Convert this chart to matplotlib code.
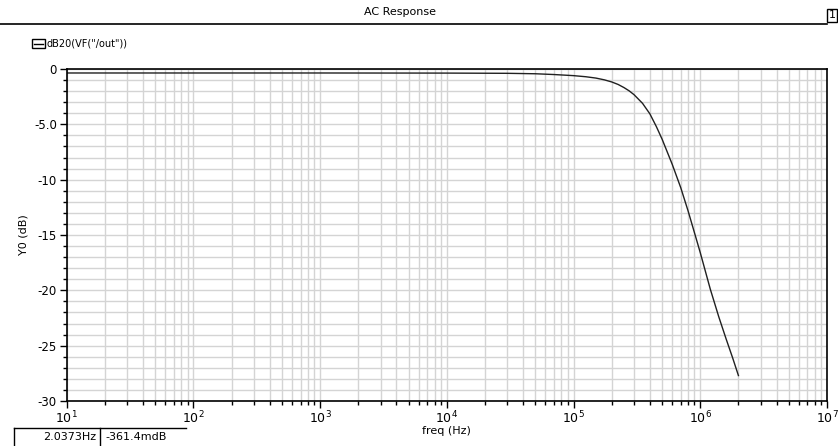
import matplotlib.pyplot as plt
import numpy as np
from matplotlib.ticker import LogLocator, MultipleLocator, FixedLocator, FixedFormatter
from matplotlib.lines import Line2D
from matplotlib.patches import Rectangle

# frequencia (Hz) e resposta (dB)
freq = [10, 100, 1e3, 1e4, 3e4, 5e4, 7e4, 1e5, 1.25e5, 1.5e5, 1.75e5, 2e5, 2.25e5,
        2.5e5, 2.75e5, 3e5, 3.5e5, 4e5, 4.5e5, 5e5, 6e5, 7e5, 8e5, 9e5, 1e6,
        1.2e6, 1.4e6, 1.6e6, 1.8e6, 2e6]
db = [-0.36, -0.36, -0.36, -0.37, -0.39, -0.43, -0.5, -0.6, -0.7, -0.82, -0.98,
      -1.17, -1.4, -1.68, -1.98, -2.32, -3.1, -4.05, -5.2, -6.35, -8.6, -10.7,
      -12.8, -14.8, -16.6, -19.9, -22.4, -24.4, -26.1, -27.7]
xticks = [1e1, 1e2, 1e3, 1e4, 1e5, 1e6, 1e7]
xlabels = ['$10^{1}$', '$10^{2}$', '$10^{3}$', '$10^{4}$', '$10^{5}$', '$10^{6}$', '$10^{7}$']
yticks = [0, -5, -10, -15, -20, -25, -30]
ylabels = ['0', '-5.0', '-10', '-15', '-20', '-25', '-30']

plt.rcParams['font.family'] = ['DejaVu Sans']
fig = plt.figure(figsize=(8.38, 4.46), dpi=100)
ax = fig.add_axes([66.7/838, 1-401/446, (827-66.7)/838, (401-69)/446])

ax.semilogx(freq, db, color='#202020', lw=1.0)
ax.set_xlim(10, 1e7)
ax.set_ylim(-30, 0)

ax.xaxis.set_major_locator(FixedLocator(xticks))
ax.xaxis.set_major_formatter(FixedFormatter(xlabels))
ax.xaxis.set_minor_locator(LogLocator(base=10, subs=np.arange(2, 10), numticks=20))
ax.yaxis.set_major_locator(FixedLocator(yticks))
ax.yaxis.set_major_formatter(FixedFormatter(ylabels))
ax.yaxis.set_minor_locator(MultipleLocator(1))

ax.grid(which='both', color='#d4d4d4', lw=1.0)
ax.set_axisbelow(True)
ax.tick_params(which='major', direction='out', length=5, width=1, labelsize=8.5, colors='black')
ax.tick_params(which='minor', direction='out', length=3, width=1)
ax.tick_params(axis='x', pad=1, labelsize=9)
ax.tick_params(axis='y', pad=2)
for s in ax.spines.values():
    s.set_linewidth(1.2)

ax.set_xlabel('freq (Hz)', fontsize=8, labelpad=0)
ax.set_ylabel('Y0 (dB)', fontsize=8, labelpad=4)

# cabecalho
fig.text(400/838, 1-12/446, 'AC Response', ha='center', va='center', fontsize=8)
fig.add_artist(Line2D([0, 826.5/838], [1-24/446, 1-24/446], color='black', lw=1.2))
fig.add_artist(Rectangle((827/838, 1-22/446), 10/838, 13/446, fill=False, lw=1, ec='black'))
fig.text(832/838, 1-15.5/446, '1', ha='center', va='center', fontsize=8)

# legenda
fig.add_artist(Rectangle((32/838, 1-48/446), 13/838, 9/446, fill=False, lw=1, ec='black'))
fig.add_artist(Line2D([34/838, 43/838], [1-43.5/446, 1-43.5/446], color='black', lw=1))
fig.text(46/838, 1-43.5/446, 'dB20(VF("/out"))', ha='left', va='center', fontsize=7)

# caixa do cursor
yb = 1-428/446
fig.add_artist(Line2D([14/838, 186/838], [yb, yb], color='black', lw=1))
fig.add_artist(Line2D([14/838, 14/838], [0, yb], color='black', lw=1))
fig.add_artist(Line2D([100/838, 100/838], [0, yb], color='black', lw=1))
fig.text(96/838, 1-437/446, '2.0373Hz', ha='right', va='center', fontsize=8)
fig.text(105/838, 1-437/446, '-361.4mdB', ha='left', va='center', fontsize=8)

plt.savefig('out.png', dpi=100)
